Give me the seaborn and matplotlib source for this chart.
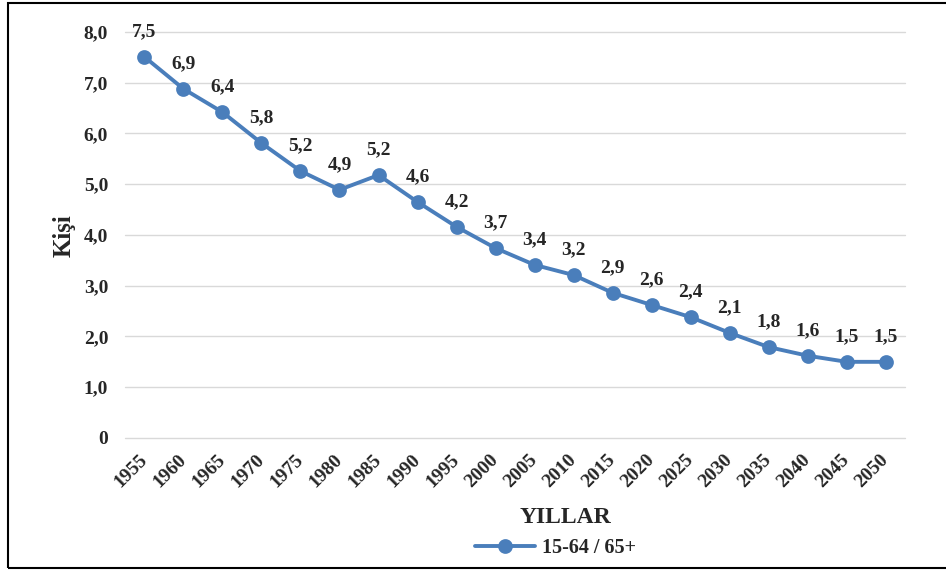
import matplotlib
matplotlib.use('Agg')
import matplotlib.pyplot as plt
from matplotlib.patches import Rectangle
import seaborn as sns
import pandas as pd

years = ['1955', '1960', '1965', '1970', '1975', '1980', '1985', '1990', '1995', '2000',
         '2005', '2010', '2015', '2020', '2025', '2030', '2035', '2040', '2045', '2050']
ratio = [7.51, 6.88, 6.42, 5.81, 5.26, 4.89, 5.18, 4.65, 4.16, 3.74,
         3.41, 3.21, 2.86, 2.62, 2.38, 2.07, 1.79, 1.62, 1.50, 1.50]
point_labels = ['7,5', '6,9', '6,4', '5,8', '5,2', '4,9', '5,2', '4,6', '4,2', '3,7',
                '3,4', '3,2', '2,9', '2,6', '2,4', '2,1', '1,8', '1,6', '1,5', '1,5']
y_ticks = [0, 1, 2, 3, 4, 5, 6, 7, 8]
y_ticklabels = ['0', '1,0', '2,0', '3,0', '4,0', '5,0', '6,0', '7,0', '8,0']
series_name = '15-64 / 65+'

df = pd.DataFrame({'Yil': years, 'Oran': ratio})

sns.set_style('white')
plt.rcParams['font.family'] = ['Liberation Serif', 'DejaVu Serif']
plt.rcParams['font.weight'] = 'bold'

line_color = '#4A7EBB'

fig = plt.figure(figsize=(9.46, 5.71), dpi=100)
ax = fig.add_axes([0.132, 0.233, 0.825, 0.711])

sns.pointplot(data=df, x='Yil', y='Oran', color=line_color, markers='o',
              markersize=8.5, linewidth=2.8, label=series_name, ax=ax)

for i, (v, t) in enumerate(zip(ratio, point_labels)):
    ax.annotate(t, (i, v), xytext=(0, 18), textcoords='offset points',
                ha='center', va='center', fontsize=14, fontweight='bold')

ax.set_ylim(0, 8)
ax.set_xlim(-0.5, len(years) - 0.5)
ax.set_yticks(y_ticks)
ax.set_yticklabels(y_ticklabels, fontsize=14, fontweight='bold')
ax.set_xticks(range(len(years)))
ax.set_xticklabels(years, rotation=45, ha='right', va='center',
                   rotation_mode='anchor', fontsize=14, fontweight='bold')
ax.tick_params(axis='x', length=0, pad=14)
ax.tick_params(axis='y', length=0, pad=12)
ax.yaxis.grid(True, color='#D9D9D9', linewidth=1)
for gl in ax.get_ygridlines():
    gl.set_clip_on(False)
ax.set_axisbelow(True)
for s in ax.spines.values():
    s.set_visible(False)

ax.set_xlabel('')
ax.set_ylabel('')
fig.text(0.068, 0.588, 'Kişi', rotation=90, ha='center', va='center',
         fontsize=18, fontweight='bold')
fig.text(0.598, 0.093, 'YILLAR', ha='center', va='center',
         fontsize=17, fontweight='bold')

handles, labels = ax.get_legend_handles_labels()
if ax.get_legend() is not None:
    ax.get_legend().remove()
fig.legend(handles, labels, loc='center', bbox_to_anchor=(0.587, 0.04),
           frameon=False, prop={'size': 14.5, 'weight': 'bold'},
           handlelength=3, handletextpad=0.3)

fig.patches.append(Rectangle((0.0085, 0.005), 1.0, 0.99, transform=fig.transFigure,
                             fill=False, edgecolor='black', linewidth=1.5, clip_on=False))

fig.savefig('out.png', dpi=100)
